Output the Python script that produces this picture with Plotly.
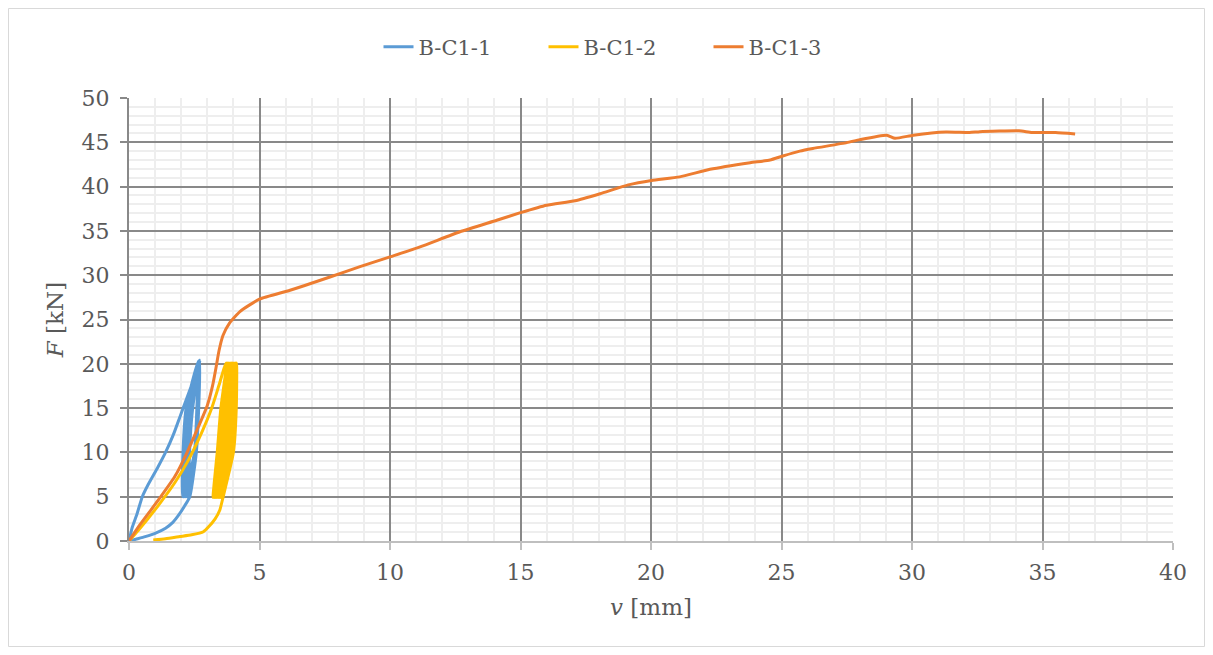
import plotly.graph_objects as go

# ---------------- data ----------------
series_names = ["B-C1-1", "B-C1-2", "B-C1-3"]

# B-C1-1 (blue): loading, load cycles 5-20 kN, final unloading
blue_v = [0, 0.12, 0.30, 0.51, 0.74, 1.10, 1.40, 1.70, 1.95, 2.20, 2.45, 2.70,
          2.65, 2.56, 2.05, 2.07, 2.19, 2.65,
          2.60, 2.51, 2.09, 2.11, 2.23, 2.66,
          2.61, 2.52, 2.12, 2.14, 2.26, 2.67,
          2.62, 2.53, 2.16, 2.18, 2.30, 2.68,
          2.63, 2.54, 2.19, 2.21, 2.33, 2.69,
          2.64, 2.55, 2.23, 2.25, 2.37, 2.70,
          2.65, 2.56, 2.26, 2.28, 2.40, 2.71,
          2.66, 2.57, 2.30, 2.32, 2.44, 2.72,
          2.67, 2.58, 2.33, 2.14, 1.92, 1.68, 1.40, 1.02, 0.62, 0.26, 0.02]
blue_F = [0, 1.5, 3.0, 5.0, 6.4, 8.3, 10.0, 12.0, 14.0, 16.0, 18.0, 20.4,
          15.0, 10.0, 5.0, 10.0, 15.0, 20.3,
          15.0, 10.0, 5.0, 10.0, 15.0, 20.3,
          15.0, 10.0, 5.0, 10.0, 15.0, 20.3,
          15.0, 10.0, 5.0, 10.0, 15.0, 20.3,
          15.0, 10.0, 5.0, 10.0, 15.0, 20.3,
          15.0, 10.0, 5.0, 10.0, 15.0, 20.3,
          15.0, 10.0, 5.0, 10.0, 15.0, 20.3,
          15.0, 10.0, 5.0, 10.0, 15.0, 20.4,
          15.0, 10.0, 5.0, 4.0, 3.0, 2.1, 1.45, 0.9, 0.5, 0.2, 0.0]

# B-C1-2 (yellow): loading, ratcheting load cycles 5-20 kN, final unloading
yellow_v = [0, 0.36, 1.12, 1.76, 2.27, 2.78, 3.17, 3.45, 3.72,
            3.71, 3.60, 3.22, 3.38, 3.52, 3.77,
            3.76, 3.65, 3.27, 3.43, 3.57, 3.82,
            3.81, 3.70, 3.32, 3.48, 3.62, 3.87,
            3.86, 3.75, 3.37, 3.53, 3.67, 3.92,
            3.91, 3.80, 3.42, 3.58, 3.72, 3.97,
            3.96, 3.85, 3.47, 3.63, 3.77, 4.02,
            4.01, 3.90, 3.52, 3.68, 3.82, 4.07,
            4.06, 3.95, 3.57, 3.73, 3.87, 4.12,
            4.11, 4.00, 3.60, 3.48, 3.30, 3.05, 2.85, 2.40, 1.95, 1.40, 0.93]
yellow_F = [0, 1.2, 4.0, 6.6, 9.1, 12.2, 15.0, 17.6, 20.1,
            15.0, 10.0, 4.9, 10.0, 15.0, 20.1,
            15.0, 10.0, 4.9, 10.0, 15.0, 20.1,
            15.0, 10.0, 4.9, 10.0, 15.0, 20.1,
            15.0, 10.0, 4.9, 10.0, 15.0, 20.1,
            15.0, 10.0, 4.9, 10.0, 15.0, 20.1,
            15.0, 10.0, 4.9, 10.0, 15.0, 20.1,
            15.0, 10.0, 4.9, 10.0, 15.0, 20.1,
            15.0, 10.0, 4.9, 10.0, 15.0, 20.1,
            15.0, 10.0, 4.9, 3.5, 2.5, 1.6, 1.05, 0.7, 0.5, 0.25, 0.1]

# B-C1-3 (orange): monotonic loading to failure
orange_v = [0, 0.36, 1.12, 1.76, 2.21, 2.66, 3.00, 3.20, 3.33, 3.45, 3.60, 3.85,
            4.25, 5.00, 6.17, 7.70, 8.85, 10.03, 11.15, 12.68, 14.09, 15.00,
            16.00, 17.09, 18.05, 19.13, 20.02, 21.10, 22.26, 23.80, 24.56,
            25.05, 25.70, 26.20, 27.50, 28.00, 29.03, 29.35, 30.05, 31.30,
            32.20, 32.60, 34.10, 34.60, 35.50, 36.25]
orange_F = [0, 1.6, 4.6, 7.3, 9.9, 12.9, 15.3, 17.5, 19.5, 21.5, 23.2, 24.6,
            25.9, 27.3, 28.3, 29.8, 30.96, 32.1, 33.2, 34.9, 36.2, 37.06,
            37.9, 38.4, 39.2, 40.2, 40.7, 41.1, 41.95, 42.7, 43.0,
            43.45, 44.0, 44.3, 44.96, 45.3, 45.8, 45.45, 45.8, 46.16,
            46.1, 46.2, 46.3, 46.1, 46.1, 45.95]

colors = ["#5B9BD5", "#FFC000", "#ED7D31"]

x_ticks = [0, 5, 10, 15, 20, 25, 30, 35, 40]
y_ticks = [0, 5, 10, 15, 20, 25, 30, 35, 40, 45, 50]

# ---------------- figure ----------------
FONT = "DejaVu Serif"
TXT = "#595959"
W, H = 1197, 639
ML, MR, MT, MB = 121, 32, 90, 106
PW, PH = W - ML - MR, H - MT - MB

fig = go.Figure()
for name, xv, yv, c in zip(series_names,
                           [blue_v, yellow_v, orange_v],
                           [blue_F, yellow_F, orange_F], colors):
    fig.add_trace(go.Scatter(x=xv, y=yv, name=name, mode="lines",
                             line=dict(color=c, width=3, shape="spline", smoothing=0.5)))

fig.update_layout(
    width=W, height=H,
    paper_bgcolor="white", plot_bgcolor="white",
    margin=dict(l=ML, r=MR, t=MT, b=MB),
    font=dict(family=FONT, color=TXT, size=21),
    showlegend=True,
    legend=dict(orientation="h", x=(618 - ML) / PW, xanchor="center",
                y=1 + 51 / PH, yanchor="middle",
                entrywidth=120, entrywidthmode="pixels",
                font=dict(family=FONT, size=21, color=TXT), bgcolor="rgba(0,0,0,0)"),
    shapes=[dict(type="rect", xref="paper", yref="paper",
                 x0=(-ML + 0.5) / PW, x1=(PW + MR - 0.5) / PW,
                 y0=(-MB + 0.5) / PH, y1=(PH + MT - 0.5) / PH,
                 line=dict(color="#D9D9D9", width=1), fillcolor="rgba(0,0,0,0)", layer="below")],
)

fig.update_xaxes(
    range=[0, 40], tickvals=x_ticks, ticktext=[str(t) for t in x_ticks],
    showgrid=True, gridcolor="#898989", gridwidth=2,
    minor=dict(dtick=1, showgrid=True, gridcolor="#EEEEEE", gridwidth=2, ticks=""),
    zeroline=False, showline=True, linecolor="#BFBFBF", linewidth=2,
    ticks="outside", ticklen=7, tickcolor="#BFBFBF", tickwidth=2,
    tickfont=dict(family=FONT, size=22, color=TXT), ticklabelstandoff=4,
    title=dict(text="<i>v</i> [mm]", font=dict(family=FONT, size=23, color=TXT), standoff=14),
)
fig.update_yaxes(
    range=[0, 50], tickvals=y_ticks, ticktext=[str(t) for t in y_ticks],
    showgrid=True, gridcolor="#898989", gridwidth=2,
    minor=dict(dtick=1, showgrid=True, gridcolor="#EEEEEE", gridwidth=2, ticks=""),
    zeroline=False, showline=True, linecolor="#898989", linewidth=2,
    ticks="outside", ticklen=7, tickcolor="#898989", tickwidth=2,
    tickfont=dict(family=FONT, size=22, color=TXT), ticklabelstandoff=6,
    title=dict(text="<i>F</i> [kN]", font=dict(family=FONT, size=23, color=TXT), standoff=12),
)

fig.write_html("out.html")
